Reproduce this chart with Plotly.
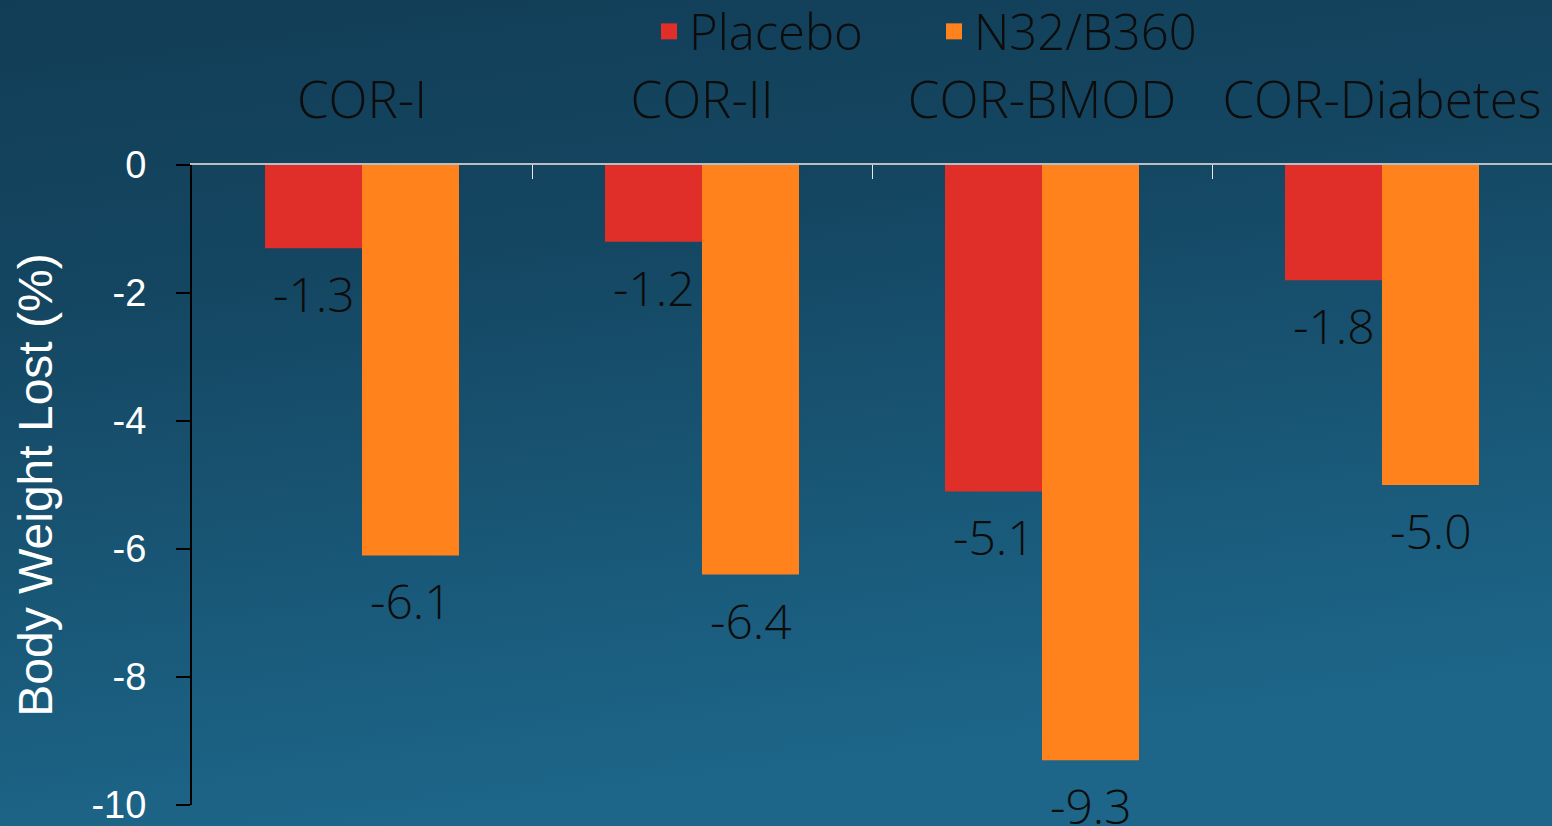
import base64
import plotly.graph_objects as go

# Study names and mean change in body weight (%)
studies = ["COR-I", "COR-II", "COR-BMOD", "COR-Diabetes"]
placebo = [-1.3, -1.2, -5.1, -1.8]
n32_b360 = [-6.1, -6.4, -9.3, -5.0]

series_names = ["Placebo", "N32/B360"]
series_colors = ["#E02E28", "#FF821C"]

y_tick_vals = [0, -2, -4, -6, -8, -10]
y_tick_text = ["0", "-2", "-4", "-6", "-8", "-10"]

W, H = 1552, 826
LEFT, TOP, BOTTOM, RIGHT = 192, 165, 21, 0
plot_w = W - LEFT - RIGHT
plot_h = H - TOP - BOTTOM
BARGAP = 1 - 194 / 340

LABEL_FONT = "Open Sans"
TEXT_DARK = "#0c0c0c"

fig = go.Figure()

for name, vals, color in zip(series_names, [placebo, n32_b360], series_colors):
    fig.add_trace(go.Bar(
        x=studies, y=vals, name=name,
        marker=dict(color=color, line=dict(width=0)),
        showlegend=False,
    ))
    # legend proxy with a larger square swatch
    fig.add_trace(go.Scatter(
        x=[None], y=[None], mode="markers", name=name,
        marker=dict(symbol="square", size=16, color=color),
        showlegend=True,
    ))

# value labels under each bar end
bar_w = plot_w / len(studies) * (1 - BARGAP) / 2
for k, vals in enumerate([placebo, n32_b360]):
    shift = (k - 0.5) * bar_w
    for s, v in zip(studies, vals):
        fig.add_annotation(
            x=s, y=v, text=f"{v:.1f}", showarrow=False,
            xshift=shift, yshift=-11, yanchor="top", xanchor="center",
            font=dict(family=LABEL_FONT, size=48, color=TEXT_DARK, weight=300),
        )

# background gradient as an SVG image stretched over the whole page
svg = (
    '<svg xmlns="http://www.w3.org/2000/svg" width="100" height="100" '
    'viewBox="0 0 100 100" preserveAspectRatio="none">'
    '<defs><linearGradient id="g" x1="0" y1="0" x2="0.25" y2="1">'
    '<stop offset="0" stop-color="#123D56"/>'
    '<stop offset="0.35" stop-color="#144661"/>'
    '<stop offset="1" stop-color="#1D6689"/>'
    '</linearGradient></defs>'
    '<rect width="100" height="100" fill="url(#g)"/></svg>'
)
bg_src = "data:image/svg+xml;base64," + base64.b64encode(svg.encode()).decode()

fig.update_layout(
    width=W, height=H,
    margin=dict(l=LEFT, r=RIGHT, t=TOP, b=BOTTOM, pad=0, autoexpand=False),
    paper_bgcolor="#154762",
    plot_bgcolor="rgba(0,0,0,0)",
    barmode="group",
    bargap=BARGAP,
    bargroupgap=0,
    images=[dict(
        source=bg_src, xref="paper", yref="paper",
        x=-LEFT / plot_w, y=1 + TOP / plot_h,
        sizex=W / plot_w, sizey=H / plot_h,
        xanchor="left", yanchor="top", sizing="stretch", layer="below",
    )],
    legend=dict(
        orientation="h", xref="paper", yref="paper",
        x=(649 - LEFT) / plot_w, y=1 + (TOP + 7) / plot_h,
        xanchor="left", yanchor="top",
        entrywidth=240, entrywidthmode="pixels",
        font=dict(family=LABEL_FONT, size=49, color=TEXT_DARK, weight=300),
        bgcolor="rgba(0,0,0,0)", itemsizing="trace",
    ),
    xaxis=dict(
        side="top", showline=True, linecolor="#b9bec2", linewidth=1.5,
        ticks="inside", tickson="boundaries", ticklen=14, tickwidth=1,
        tickcolor="#e8e8e8", showgrid=False, zeroline=False,
        tickfont=dict(family=LABEL_FONT, size=51, color=TEXT_DARK, weight=300),
        ticklabelstandoff=25,
    ),
    yaxis=dict(
        range=[-10, 0], tickvals=y_tick_vals, ticktext=y_tick_text,
        showline=True, linecolor="#000000", linewidth=2,
        ticks="outside", ticklen=14, tickwidth=2, tickcolor="#000000",
        showgrid=False, zeroline=False, ticklabeloverflow="allow",
        tickfont=dict(family="Liberation Sans, Arial", size=38, color="#ffffff"),
        ticklabelstandoff=22,
        title=dict(text="Body Weight Lost (%)", standoff=24,
                   font=dict(family="Liberation Sans, Arial", size=48, color="#ffffff")),
    ),
)

fig.write_html("out.html")
